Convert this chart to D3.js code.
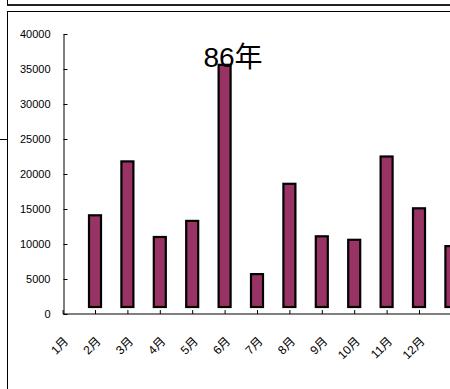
<!DOCTYPE html>
<html>
<head>
<meta charset="utf-8">
<script src="https://cdn.jsdelivr.net/npm/d3@7"></script>
<style>
  html, body { margin: 0; padding: 0; background: #fff; }
  svg { display: block; }
</style>
</head>
<body>
<svg id="chart" width="450" height="389"></svg>
<script>
// Monthly figures for 86年; the slot after 12月 carries no label.
const categories = ["1月", "2月", "3月", "4月", "5月", "6月", "7月", "8月", "9月", "10月", "11月", "12月", ""];
const values = [null, 14100, 21800, 11000, 13300, 35600, 5700, 18600, 11100, 10600, 22500, 15100, 9700];
const barFloor = 1000;
const yTicks = [0, 5000, 10000, 15000, 20000, 25000, 30000, 35000, 40000];
const title = "86年";

const svg = d3.select("#chart");
const latin = "'Liberation Sans', Arial, 'Noto Sans CJK JP', sans-serif";

// Frame lines: the panel above and the chart box
svg.append("line").attr("x1", 7).attr("x2", 450).attr("y1", 5).attr("y2", 5)
  .attr("stroke", "#222").attr("stroke-width", 2);
svg.append("line").attr("x1", 7.5).attr("x2", 7.5).attr("y1", 0).attr("y2", 5)
  .attr("stroke", "#000");
svg.append("line").attr("x1", 7).attr("x2", 450).attr("y1", 11.5).attr("y2", 11.5)
  .attr("stroke", "#000");
svg.append("line").attr("x1", 7.5).attr("x2", 7.5).attr("y1", 11).attr("y2", 389)
  .attr("stroke", "#000");
svg.append("line").attr("x1", 0).attr("x2", 7).attr("y1", 139.5).attr("y2", 139.5)
  .attr("stroke", "#000");

const x = d3.scalePoint().domain(d3.range(categories.length)).range([62.6, 451.4]);
const y = d3.scaleLinear().domain([0, 40000]).range([314, 34]);

// Bars
const barW = 12;
svg.append("g").selectAll("rect")
  .data(values.map((v, i) => ({ v, i })).filter(d => d.v != null))
  .join("rect")
  .attr("x", d => x(d.i) - barW / 2)
  .attr("y", d => y(d.v))
  .attr("width", barW)
  .attr("height", d => y(barFloor) - y(d.v))
  .attr("fill", "#993366")
  .attr("stroke", "#000")
  .attr("stroke-width", 2.2);

// X axis
const xAxis = svg.append("g")
  .attr("transform", `translate(0,${y(0)})`)
  .call(d3.axisBottom(x).tickSizeInner(-4).tickSizeOuter(0).tickFormat(i => categories[i]));
xAxis.select(".domain").attr("stroke", "#808080").attr("stroke-width", 2)
  .attr("d", `M63,0H450`);
xAxis.selectAll(".tick line").attr("stroke", "#000");
xAxis.selectAll(".tick text")
  .attr("font-family", latin)
  .attr("font-size", 12)
  .attr("fill", "#000")
  .attr("text-anchor", "end")
  .attr("dy", null)
  .attr("y", null)
  .attr("transform", "translate(6,28) rotate(-45)");

// Y axis
const yAxis = svg.append("g")
  .attr("transform", `translate(63.5,0)`)
  .call(d3.axisLeft(y).tickValues(yTicks).tickSizeInner(-4).tickSizeOuter(0).tickPadding(13).tickFormat(d3.format("d")));
yAxis.select(".domain").attr("stroke", "#000");
yAxis.selectAll(".tick line").attr("stroke", "#000");
yAxis.selectAll(".tick text")
  .attr("font-family", latin)
  .attr("font-size", 11)
  .attr("fill", "#000");

// Title
svg.append("text")
  .attr("x", 233).attr("y", 67)
  .attr("text-anchor", "middle")
  .attr("font-family", latin)
  .attr("font-size", 28)
  .attr("fill", "#000")
  .text(title);
</script>
</body>
</html>
